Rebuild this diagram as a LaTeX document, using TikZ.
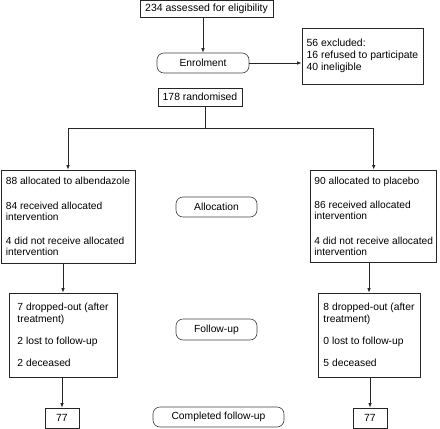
\documentclass[tikz,border=0pt]{standalone}
\usepackage{fontspec}
\setmainfont{Liberation Sans}
\usetikzlibrary{arrows.meta}
\begin{document}
\begin{tikzpicture}[x=1pt,y=-1pt,
  box/.style={draw=black!85, line width=0.75pt, align=left, inner sep=0pt, font=\fontsize{10.2}{11}\selectfont},
  pill/.style={draw=black!75, line width=0.6pt, rounded corners=7pt, inner sep=0pt, font=\fontsize{10.3}{12}\selectfont},
  arr/.style={draw=black!85, line width=0.75pt, -{Latex[length=4.5pt,width=3.5pt]}},
  ln/.style={draw=black!85, line width=0.75pt}]
\useasboundingbox (0,0) rectangle (440,429);
\node[box, minimum width=133pt, minimum height=17pt, font=\fontsize{10.5}{11}\selectfont] (assess) at (206.5,9) {234 assessed for eligibility};
\node[pill, minimum width=92pt, minimum height=20pt] (enrol) at (203,63) {Enrolment};
\node[box, minimum width=121pt, minimum height=56pt, font=\fontsize{10.4}{12}\selectfont] (excl) at (362.5,56) {56 excluded:\\16 refused to participate\\40 ineligible};
\node[box, minimum width=84pt, minimum height=18pt, font=\fontsize{10.4}{11}\selectfont] (rand) at (200,97) {178 randomised};
\coordinate (split) at (205,128);
\node[box, minimum width=134pt, minimum height=93pt] (alb) at (68,216.5) {88 allocated to albendazole\\[13.5pt]84 received allocated\\intervention\\[13.5pt]4 did not receive allocated\\intervention};
\node[box, minimum width=126pt, minimum height=92pt] (plac) at (373.7,216) {90 allocated to placebo\\[13.5pt]86 received allocated\\intervention\\[13.5pt]4 did not receive allocated\\intervention};
\node[pill, minimum width=81pt, minimum height=20pt] (alloc) at (216.5,207) {Allocation};
\node[box, minimum width=108pt, minimum height=84pt, font=\fontsize{10.3}{12}\selectfont] (fl) at (63,335) {7 dropped-out (after\\treatment)\\[10pt]2 lost to follow-up\\[10pt]2 deceased};
\node[box, minimum width=102pt, minimum height=84pt, font=\fontsize{10.3}{12}\selectfont] (fr) at (369,335) {8 dropped-out (after\\treatment)\\[10pt]0 lost to follow-up\\[10pt]5 deceased};
\node[pill, minimum width=81pt, minimum height=21pt] (follow) at (216.5,329.5) {Follow-up};
\node[box, minimum width=34pt, minimum height=20pt, font=\fontsize{10.4}{11}\selectfont] (cl) at (62,418) {77};
\node[box, minimum width=34pt, minimum height=20pt, font=\fontsize{10.4}{11}\selectfont] (cr) at (370,418) {77};
\node[pill, minimum width=131pt, minimum height=20pt] (compl) at (218.5,417) {Completed follow-up};
\draw[arr] (assess.south -| enrol.north) -- (enrol.north);
\draw[arr] (enrol.east) -- (excl.west |- enrol.east);
\draw[ln] (rand.south -| split) -- (split);
\draw[arr] (split) -| (alb.north);
\draw[arr] (split) -| (plac.north);
\draw[arr] (alb.south -| fl.north) -- (fl.north);
\draw[arr] (plac.south -| fr.north) -- (fr.north);
\draw[arr] (fl.south -| cl.north) -- (cl.north);
\draw[arr] (fr.south -| cr.north) -- (cr.north);
\end{tikzpicture}
\end{document}
